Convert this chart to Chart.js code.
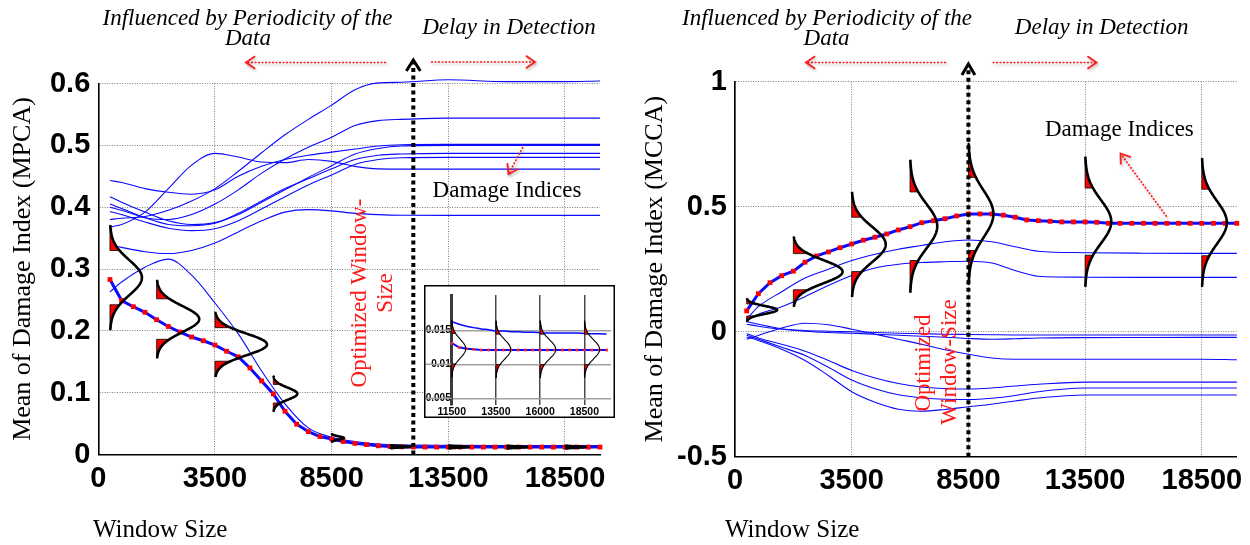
<!DOCTYPE html>
<html>
<head>
<meta charset="utf-8">
<title>Mean of Damage Index vs Window Size</title>
<script src="https://cdn.jsdelivr.net/npm/chart.js@4.4.1/dist/chart.umd.min.js"></script>
<style>
  html, body { margin: 0; padding: 0; background: #ffffff; }
  #stage { position: relative; width: 1250px; height: 545px; overflow: hidden; background: #fff; }
  canvas { position: absolute; display: block; }
  #mpca { left: 0; top: 0; }
  #mcca { left: 625px; top: 0; }
  #inset { left: 424px; top: 285px; }
</style>
</head>
<body>
<div id="stage">
  <canvas id="mpca" width="625" height="545"></canvas>
  <canvas id="mcca" width="625" height="545"></canvas>
  <canvas id="inset" width="191" height="133"></canvas>
</div>
<script>
// ---------------- DATA ----------------
const windowSizes = [500,1000,1500,2000,2500,3000,3500,4000,4500,5000,5500,6000,6500,7000,7500,8000,8500,9000,9500,10000,10500,11000,11500,12000,12500,13000,13500,14000,14500,15000,15500,16000,16500,17000,17500,18000,18500,19000,19500,20000,20500,21000,21500];
const xTickValues = [0, 5000, 10000, 15000, 20000];
const xTickLabels = ['0', '3500', '8500', '13500', '18500'];

// Left panel (MPCA)
const mpcaYTicks = [0, 0.1, 0.2, 0.3, 0.4, 0.5, 0.6];
const mpcaYLabels = ['0', '0.1', '0.2', '0.3', '0.4', '0.5', '0.6'];
const mpcaMean = [0.283,0.249,0.239,0.230,0.218,0.207,0.198,0.190,0.184,0.177,0.167,0.158,0.140,0.119,0.098,0.070,0.049,0.037,0.029,0.025,0.021,0.018,0.016,0.014,0.013,0.0125,0.0122,0.0121,0.012,0.012,0.012,0.012,0.012,0.012,0.012,0.012,0.012,0.012,0.012,0.012,0.012,0.012,0.012];
const diWindows = [500,1000,2000,3000,4000,5000,6000,7000,8000,9000,10000,11000,12000,13000,15000,17500,20000,21500];
const mpcaDI1 = [0.380,0.382,0.385,0.395,0.410,0.430,0.458,0.488,0.517,0.542,0.565,0.590,0.601,0.602,0.606,0.603,0.603,0.604];
const mpcaDI2 = [0.400,0.395,0.383,0.380,0.388,0.405,0.428,0.455,0.478,0.497,0.513,0.532,0.540,0.542,0.544,0.544,0.544,0.544];
const mpcaDI3 = [0.443,0.440,0.430,0.424,0.421,0.428,0.450,0.466,0.477,0.484,0.489,0.494,0.499,0.501,0.5015,0.5015,0.5015,0.5015];
const mpcaDI4 = [0.417,0.408,0.392,0.378,0.372,0.375,0.388,0.408,0.428,0.448,0.467,0.486,0.495,0.499,0.500,0.500,0.500,0.500];
const mpcaDI5 = [0.405,0.398,0.383,0.372,0.370,0.374,0.390,0.410,0.430,0.446,0.462,0.477,0.484,0.486,0.487,0.487,0.487,0.487];
const mpcaDI6 = [0.393,0.388,0.376,0.366,0.362,0.365,0.378,0.397,0.417,0.436,0.452,0.469,0.477,0.480,0.4805,0.4805,0.4805,0.4805];
const mpcaDI7 = [0.368,0.372,0.392,0.430,0.468,0.487,0.481,0.473,0.472,0.477,0.474,0.466,0.462,0.4616,0.4616,0.4616,0.4616,0.4616];
const mpcaDI8 = [0.339,0.335,0.328,0.325,0.330,0.342,0.360,0.378,0.392,0.396,0.394,0.390,0.388,0.387,0.3867,0.3867,0.3867,0.3867];
const mpcaDI9 = [0.263,0.279,0.303,0.316,0.290,0.245,0.195,0.135,0.082,0.043,0.028,0.021,0.017,0.0155,0.0148,0.0146,0.0145,0.0145];
// distributions drawn over the MPCA mean curve
const mpcaPdfWindow = [500, 2500, 5000, 7500, 10000, 12500, 15000, 17500, 20000];
const mpcaPdfMean   = [0.286, 0.219, 0.178, 0.0983, 0.0267, 0.0125, 0.0122, 0.012, 0.012];
const mpcaPdfStd    = [0.0283, 0.0211, 0.0175, 0.0097, 0.0025, 0.001, 0.001, 0.001, 0.001];
const mpcaPdfPeak   = [1370, 1825, 2230, 1030, 528, 880, 880, 880, 880];
const mpcaOptimalWindow = 13500;

// Right panel (MCCA)
const mccaYTicks = [-0.5, 0, 0.5, 1];
const mccaYLabels = ['-0.5', '0', '0.5', '1'];
const mccaMean = [0.083,0.152,0.196,0.224,0.242,0.278,0.303,0.319,0.336,0.351,0.366,0.378,0.391,0.407,0.420,0.436,0.444,0.452,0.463,0.471,0.471,0.471,0.466,0.458,0.447,0.444,0.4415,0.439,0.439,0.439,0.4375,0.4335,0.4335,0.4335,0.4335,0.4335,0.4335,0.4335,0.4335,0.4335,0.4335,0.4335,0.4335];
const mccaDI1 = [0.050,0.100,0.160,0.215,0.250,0.285,0.310,0.330,0.345,0.360,0.367,0.360,0.340,0.322,0.316,0.314,0.3135,0.3135];
const mccaDI2 = [0.045,0.070,0.100,0.140,0.185,0.225,0.255,0.270,0.277,0.280,0.282,0.275,0.245,0.222,0.218,0.2175,0.2175,0.2175];
const mccaDI3 = [0.040,0.030,0.012,0.005,0.002,0.000,-0.003,-0.006,-0.008,-0.010,-0.011,-0.012,-0.013,-0.013,-0.013,-0.013,-0.013,-0.013];
const mccaDI4 = [0.030,0.022,0.010,0.002,-0.003,-0.006,-0.010,-0.014,-0.018,-0.022,-0.027,-0.030,-0.028,-0.025,-0.0235,-0.023,-0.0227,-0.0227];
const mccaDI5 = [-0.030,-0.015,0.015,0.034,0.028,0.010,-0.010,-0.030,-0.050,-0.072,-0.090,-0.105,-0.110,-0.110,-0.110,-0.110,-0.110,-0.112];
const mccaDI6 = [-0.007,-0.025,-0.050,-0.078,-0.115,-0.155,-0.185,-0.207,-0.221,-0.227,-0.229,-0.225,-0.217,-0.210,-0.2015,-0.2015,-0.2015,-0.2015];
const mccaDI7 = [-0.014,-0.030,-0.062,-0.095,-0.142,-0.193,-0.228,-0.252,-0.264,-0.270,-0.271,-0.266,-0.255,-0.240,-0.225,-0.225,-0.225,-0.225];
const mccaDI8 = [-0.021,-0.035,-0.070,-0.115,-0.175,-0.240,-0.282,-0.310,-0.318,-0.311,-0.300,-0.290,-0.277,-0.265,-0.253,-0.253,-0.253,-0.253];
const mccaPdfWindow = [500, 2500, 5000, 7500, 10000, 15000, 20000];
const mccaPdfMean   = [0.087, 0.24, 0.349, 0.422, 0.471, 0.44, 0.437];
const mccaPdfStd    = [0.0156, 0.0467, 0.07, 0.0885, 0.0943, 0.0867, 0.0858];
const mccaPdfPeak   = [1307, 2110, 1457, 1165, 1071, 1120, 1071];
const mccaOptimalWindow = 10000;

// Inset (zoom of the converged MPCA region)
const insetSamples = [0,1,2,3,4,5,6,7,8,9,10,11,12,13,14,15,16,17,18,19,20,21];
const insetXTicks = [0, 6, 12, 18];
const insetXLabels = ['11500', '13500', '16000', '18500'];
const insetYTicks = [0.005, 0.01, 0.015];
const insetYLabels = ['0.005', '0.01', '0.015'];
const insetMean  = [0.0131,0.0125,0.0123,0.0122,0.0121,0.0121,0.0121,0.0121,0.0121,0.0121,0.0121,0.0121,0.0121,0.0121,0.0121,0.0121,0.0121,0.0121,0.0121,0.0121,0.0121,0.0121];
const insetUpper = [0.0163,0.0159,0.0156,0.0154,0.0152,0.0151,0.0149,0.0149,0.0148,0.0148,0.0147,0.0147,0.01465,0.0146,0.0146,0.0146,0.0146,0.0146,0.01455,0.0145,0.0145,0.01445];
const insetPdfAt   = [0, 6, 12, 18];
const insetPdfMean = [0.0123, 0.0122, 0.0122, 0.0122];
const insetPdfStd  = [0.0014, 0.0014, 0.0014, 0.0014];
const insetPdfPeak = [1.9, 2.0, 2.1, 2.05];

// ---------------- STYLE / HELPERS ----------------
const SERIF = '"Liberation Serif", "Times New Roman", Times, serif';
const SANS = '"Liberation Sans", Arial, Helvetica, sans-serif';
const BLUE = '#0a0aff';
const RED = '#ff1a1a';

function pts(xs, ys) { return xs.map((x, i) => ({ x: x, y: ys[i] })); }

function thin(arr) {
  return { data: pts(diWindows, arr), borderColor: BLUE, borderWidth: 1.1, pointRadius: 0,
           cubicInterpolationMode: 'monotone', fill: false, clip: false };
}
function meanSet(arr) {
  return { data: pts(windowSizes, arr), borderColor: BLUE, borderWidth: 3, tension: 0,
           pointStyle: 'rect', pointRadius: 3.4, pointBackgroundColor: '#ff0000',
           pointBorderColor: '#ff0000', pointBorderWidth: 0, fill: false, clip: false };
}

function gauss(ctx, xs, ys, x0, mu, sd, peak, lw, zRed) {
  const bx = xs.getPixelForValue(x0);
  const w = xs.getPixelForValue(x0 + peak) - bx;
  const P = z => [bx + w * Math.exp(-z * z / 2), ys.getPixelForValue(mu + z * sd)];
  ctx.save();
  ctx.fillStyle = '#ff0000';
  [1, -1].forEach(s => {
    ctx.beginPath();
    ctx.moveTo(bx, ys.getPixelForValue(mu + s * zRed * sd));
    for (let k = 0; k <= 24; k++) { const p = P(s * (zRed + (3 - zRed) * k / 24)); ctx.lineTo(p[0], p[1]); }
    ctx.lineTo(bx, ys.getPixelForValue(mu + s * 3 * sd));
    ctx.closePath(); ctx.fill();
    ctx.strokeStyle = '#000'; ctx.lineWidth = 0.8; ctx.stroke();
  });
  ctx.strokeStyle = '#000'; ctx.lineWidth = lw; ctx.lineJoin = 'round'; ctx.lineCap = 'butt';
  ctx.beginPath();
  for (let k = 0; k <= 120; k++) {
    const p = P(-3 + 6 * k / 120);
    if (k === 0) ctx.moveTo(p[0], p[1]); else ctx.lineTo(p[0], p[1]);
  }
  ctx.stroke();
  ctx.restore();
}

function redArrow(ctx, x1, y1, x2, y2) {
  ctx.save();
  ctx.shadowColor = 'rgba(0,0,0,0.28)'; ctx.shadowBlur = 3; ctx.shadowOffsetX = 1; ctx.shadowOffsetY = 2;
  ctx.strokeStyle = RED; ctx.lineWidth = 1.6; ctx.setLineDash([2, 1.5]);
  ctx.beginPath(); ctx.moveTo(x1, y1); ctx.lineTo(x2, y2); ctx.stroke();
  ctx.setLineDash([]); ctx.lineWidth = 1.8;
  const a = Math.atan2(y2 - y1, x2 - x1), L = 11, sp = 0.6;
  ctx.beginPath();
  ctx.moveTo(x2 - L * Math.cos(a - sp), y2 - L * Math.sin(a - sp));
  ctx.lineTo(x2, y2);
  ctx.lineTo(x2 - L * Math.cos(a + sp), y2 - L * Math.sin(a + sp));
  ctx.stroke();
  ctx.restore();
}

function blackDotted(ctx, x, yBottom, yTop, half) {
  ctx.save();
  ctx.strokeStyle = '#000'; ctx.lineWidth = 4; ctx.setLineDash([4, 3.5]);
  ctx.beginPath(); ctx.moveTo(x, yBottom); ctx.lineTo(x, yTop + 3); ctx.stroke();
  ctx.setLineDash([]); ctx.lineWidth = 3; ctx.lineJoin = 'miter';
  ctx.beginPath(); ctx.moveTo(x - half, yTop + 11); ctx.lineTo(x, yTop); ctx.lineTo(x + half, yTop + 11); ctx.stroke();
  ctx.restore();
}

function txt(ctx, s, x, y, font, color, rot) {
  ctx.save();
  ctx.font = font; ctx.fillStyle = color; ctx.textAlign = 'center'; ctx.textBaseline = 'middle';
  ctx.translate(x, y); if (rot) ctx.rotate(rot);
  ctx.fillText(s, 0, 0);
  ctx.restore();
}
function xTitle(ctx, s, x) {
  ctx.save();
  ctx.font = '25px ' + SERIF; ctx.fillStyle = '#000'; ctx.textAlign = 'left'; ctx.textBaseline = 'alphabetic';
  ctx.fillText(s, x, 536.5);
  ctx.restore();
}

function mainChart(id, cfg) {
  const tickFont = { family: SANS, size: 29, weight: 'bold' };
  const grid = { color: '#7d7d7d', lineWidth: 1, drawTicks: false };
  const border = { color: '#000', width: 1.6, dash: [1, 1.5] };
  return new Chart(document.getElementById(id), {
    type: 'line',
    data: { datasets: cfg.datasets },
    options: {
      responsive: false, animation: false, devicePixelRatio: 1, events: [],
      layout: { padding: cfg.padding },
      plugins: { legend: { display: false }, tooltip: { enabled: false } },
      scales: {
        x: {
          type: 'linear', min: 0, max: 21500,
          afterBuildTicks: s => { s.ticks = xTickValues.map(v => ({ value: v })); },
          afterFit: s => { s.height = cfg.xAxisHeight; },
          ticks: { autoSkip: false, maxRotation: 0, padding: 7, color: '#000', font: tickFont,
                   callback: (v, i) => xTickLabels[i] },
          grid: grid, border: border
        },
        y: {
          type: 'linear', min: cfg.yTicks[0], max: cfg.yTicks[cfg.yTicks.length - 1],
          afterBuildTicks: s => { s.ticks = cfg.yTicks.map(v => ({ value: v })); },
          afterFit: s => { s.width = cfg.yAxisWidth; },
          ticks: { padding: 8, color: '#000', font: tickFont, callback: (v, i) => cfg.yLabels[i] },
          grid: grid, border: border,
          title: { display: true, text: cfg.yTitle, color: '#000', font: { family: SERIF, size: 26 },
                   padding: { top: cfg.yTitlePad, bottom: 0 } }
        }
      }
    },
    plugins: [cfg.plugin]
  });
}

// ---------------- LEFT: MPCA ----------------
const mpcaAnnot = {
  id: 'mpcaAnnot',
  afterDatasetsDraw(chart) {
    const { ctx, scales: { x, y }, chartArea: ca } = chart;
    mpcaPdfWindow.forEach((w, i) => gauss(ctx, x, y, w, mpcaPdfMean[i], mpcaPdfStd[i], mpcaPdfPeak[i], 2.6, 1.55));
    blackDotted(ctx, x.getPixelForValue(mpcaOptimalWindow), ca.bottom, 60, 7);
    redArrow(ctx, 386, 62.5, 246, 62.5);
    redArrow(ctx, 431, 62, 535, 62);
    redArrow(ctx, 523, 147, 508.5, 174);
    const it = 'italic 23px ' + SERIF;
    txt(ctx, 'Influenced by Periodicity of the', 247.5, 19, it, '#000');
    txt(ctx, 'Data', 248, 39, it, '#000');
    txt(ctx, 'Delay in Detection', 509, 28, it, '#000');
    txt(ctx, 'Damage Indices', 507, 191, '23px ' + SERIF, '#000');
    txt(ctx, 'Optimized Window-', 360, 293, '23px ' + SERIF, RED, -Math.PI / 2);
    txt(ctx, 'Size', 386, 293, '23px ' + SERIF, RED, -Math.PI / 2);
    xTitle(ctx, 'Window Size', 93);
  }
};

mainChart('mpca', {
  datasets: [meanSet(mpcaMean), thin(mpcaDI1), thin(mpcaDI2), thin(mpcaDI3), thin(mpcaDI4), thin(mpcaDI5),
             thin(mpcaDI6), thin(mpcaDI7), thin(mpcaDI8), thin(mpcaDI9)],
  padding: { left: 0, right: 25, top: 83.5, bottom: 0 },
  xAxisHeight: 90.5, yAxisWidth: 98.3,
  yTicks: mpcaYTicks, yLabels: mpcaYLabels,
  yTitle: 'Mean of Damage Index (MPCA)', yTitlePad: 8,
  plugin: mpcaAnnot
});

// ---------------- RIGHT: MCCA ----------------
const mccaAnnot = {
  id: 'mccaAnnot',
  afterDatasetsDraw(chart) {
    const { ctx, scales: { x, y }, chartArea: ca } = chart;
    mccaPdfWindow.forEach((w, i) => gauss(ctx, x, y, w, mccaPdfMean[i], mccaPdfStd[i], mccaPdfPeak[i], 2.6, 1.55));
    blackDotted(ctx, x.getPixelForValue(mccaOptimalWindow), ca.bottom, 64, 6.5);
    redArrow(ctx, 321, 62.5, 181, 62.5);
    redArrow(ctx, 367.5, 62.5, 471.5, 62.5);
    redArrow(ctx, 541.7, 216.7, 495.5, 153.5);
    const it = 'italic 23px ' + SERIF;
    txt(ctx, 'Influenced by Periodicity of the', 202, 19, it, '#000');
    txt(ctx, 'Data', 201.6, 39, it, '#000');
    txt(ctx, 'Delay in Detection', 476.7, 28, it, '#000');
    txt(ctx, 'Damage Indices', 494.4, 130, '23px ' + SERIF, '#000');
    txt(ctx, 'Optimized', 299, 363, '23px ' + SERIF, RED, -Math.PI / 2);
    txt(ctx, 'Window-Size', 325, 362, '23px ' + SERIF, RED, -Math.PI / 2);
    xTitle(ctx, 'Window Size', 100);
  }
};

mainChart('mcca', {
  datasets: [meanSet(mccaMean), thin(mccaDI1), thin(mccaDI2), thin(mccaDI3), thin(mccaDI4),
             thin(mccaDI5), thin(mccaDI6), thin(mccaDI7), thin(mccaDI8)],
  padding: { left: 0, right: 12.3, top: 81.7, bottom: 0 },
  xAxisHeight: 88.3, yAxisWidth: 110,
  yTicks: mccaYTicks, yLabels: mccaYLabels,
  yTitle: 'Mean of Damage Index (MCCA)', yTitlePad: 15,
  plugin: mccaAnnot
});

// ---------------- INSET ----------------
const insetDeco = {
  id: 'insetDeco',
  beforeDraw(chart) {
    const { ctx, width, height } = chart;
    ctx.save(); ctx.fillStyle = '#fff'; ctx.fillRect(0, 0, width, height); ctx.restore();
  },
  beforeDatasetsDraw(chart) {
    const { ctx, scales: { y }, chartArea: ca } = chart;
    ctx.save(); ctx.strokeStyle = '#a0a0a0'; ctx.lineWidth = 1.5;
    insetYTicks.forEach(v => {
      const py = y.getPixelForValue(v);
      ctx.beginPath(); ctx.moveTo(0, py); ctx.lineTo(ca.left, py); ctx.stroke();
    });
    ctx.restore();
  },
  afterDatasetsDraw(chart) {
    const { ctx, scales: { x, y } } = chart;
    insetPdfAt.forEach((p, i) => gauss(ctx, x, y, p, insetPdfMean[i], insetPdfStd[i], insetPdfPeak[i], 1.1, 1.6));
  },
  afterDraw(chart) {
    const { ctx, width, height } = chart;
    ctx.save(); ctx.strokeStyle = '#000'; ctx.lineWidth = 1.5;
    ctx.strokeRect(0.75, 0.75, width - 1.5, height - 1.5); ctx.restore();
  }
};

new Chart(document.getElementById('inset'), {
  type: 'line',
  data: {
    datasets: [
      { data: pts(insetSamples, insetMean), borderColor: BLUE, borderWidth: 2, pointStyle: 'rect',
        pointRadius: 1.9, pointBackgroundColor: '#ff2020', pointBorderWidth: 0, fill: false, clip: false },
      { data: pts(insetSamples, insetUpper), borderColor: BLUE, borderWidth: 1.5, pointRadius: 0,
        cubicInterpolationMode: 'monotone', fill: false, clip: false }
    ]
  },
  options: {
    responsive: false, animation: false, devicePixelRatio: 1, events: [],
    layout: { padding: { left: 0, right: 0, top: 10, bottom: 0 } },
    plugins: { legend: { display: false }, tooltip: { enabled: false } },
    scales: {
      x: {
        type: 'linear', min: 0, max: 21.6,
        afterBuildTicks: s => { s.ticks = insetXTicks.map(v => ({ value: v })); },
        afterFit: s => { s.height = 13; },
        ticks: { autoSkip: false, maxRotation: 0, padding: 1, color: '#000',
                 font: { family: SANS, size: 10.5, weight: 'bold' }, callback: (v, i) => insetXLabels[i] },
        grid: { color: '#4a4a4a', lineWidth: 1.5, drawTicks: false },
        border: { display: false }
      },
      y: {
        type: 'linear', min: 0.00401, max: 0.0202,
        afterBuildTicks: s => { s.ticks = insetYTicks.map(v => ({ value: v })); },
        afterFit: s => { s.width = 27.7; },
        ticks: { padding: 1, color: '#000', font: { family: SANS, size: 10, weight: 'bold' },
                 callback: (v, i) => insetYLabels[i] },
        grid: { color: '#a0a0a0', lineWidth: 1.5, drawTicks: false },
        border: { color: '#3a3a3a', width: 3 }
      }
    }
  },
  plugins: [insetDeco]
});
</script>
</body>
</html>
